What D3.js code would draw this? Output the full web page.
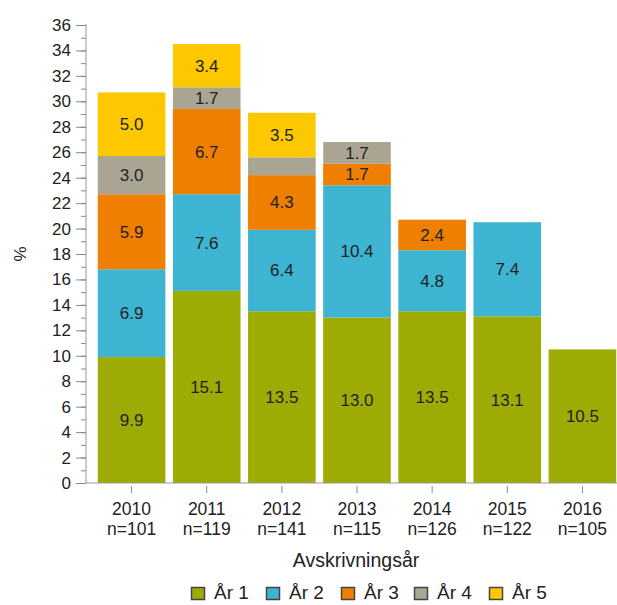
<!DOCTYPE html>
<html><head><meta charset="utf-8">
<script src="https://cdn.jsdelivr.net/npm/d3@7"></script>
<style>body{margin:0;background:#fff}text{font-family:"Liberation Sans",Arial,sans-serif}</style>
</head><body><svg id="c" width="617" height="605"></svg>
<script>
const years = ["2010","2011","2012","2013","2014","2015","2016"];
const nLabels = ["n=101","n=119","n=141","n=115","n=126","n=122","n=105"];
const seriesNames = ["År 1","År 2","År 3","År 4","År 5"];
const ar1 = [9.9, 15.1, 13.5, 13.0, 13.5, 13.1, 10.5];
const ar2 = [6.9, 7.6, 6.4, 10.4, 4.8, 7.4, 0];
const ar3 = [5.9, 6.7, 4.3, 1.7, 2.4, 0, 0];
const ar4 = [3.0, 1.7, 1.4, 1.7, 0, 0, 0];
const ar5 = [5.0, 3.4, 3.5, 0, 0, 0, 0];
const showLabel = [
  [1,1,1,1,1,1,1],
  [1,1,1,1,1,1,0],
  [1,1,1,1,1,0,0],
  [1,1,0,1,0,0,0],
  [1,1,1,0,0,0,0]
];
const colors = ["#9eab05","#3cb4d2","#ee7f00","#aaa593","#fdc800"];
const yTicks = d3.range(0, 37, 2);

const svg = d3.select("#c");
const x = d3.scaleBand().domain(years).range([94, 620]).paddingInner(0.1).paddingOuter(0.05);
const y = d3.scaleLinear().domain([0, 36]).range([483, 25]);

const data = years.map((yr, i) => {
  const o = {year: yr};
  [ar1, ar2, ar3, ar4, ar5].forEach((arr, k) => o[seriesNames[k]] = arr[i]);
  return o;
});
const stack = d3.stack().keys(seriesNames)(data);

const g = svg.append("g");
stack.forEach((s, k) => {
  g.selectAll(null).data(s).enter().append("rect")
    .attr("x", d => x(d.data.year))
    .attr("width", x.bandwidth())
    .attr("y", d => y(d[1]))
    .attr("height", d => y(d[0]) - y(d[1]))
    .attr("fill", colors[k]);
  g.selectAll(null).data(s.filter((d, i) => showLabel[k][i] && d[1] - d[0] > 0)).enter().append("text")
    .attr("x", d => x(d.data.year) + x.bandwidth() / 2)
    .attr("y", d => y((d[0] + d[1]) / 2))
    .attr("dy", "0.35em")
    .attr("text-anchor", "middle")
    .attr("font-size", 17)
    .attr("fill", "#222")
    .text(d => (d[1] - d[0]).toFixed(1));
});

// y axis
const ya = svg.append("g").attr("transform", "translate(86,0)");
ya.call(d3.axisLeft(y).tickValues(d3.range(0, 37, 1)).tickSize(5).tickFormat(""))
  .call(a => a.select(".domain").remove());
ya.selectAll(".tick line").attr("stroke", "#888");
const ya2 = svg.append("g").attr("transform", "translate(86,0)");
ya2.call(d3.axisLeft(y).tickValues(yTicks).tickSize(10).tickPadding(5))
  .call(a => a.select(".domain").attr("stroke", "#999").attr("d", `M0,${y(36)-1}V${y(0)}`));
ya2.selectAll(".tick line").attr("stroke", "#888");
ya2.selectAll(".tick text").attr("font-size", 17).attr("fill", "#222").style("font-family", "Liberation Sans, Arial, sans-serif");

// x axis
const xa = svg.append("g").attr("transform", "translate(0,483)");
xa.append("line").attr("x1", 86).attr("x2", 617).attr("stroke", "#999");
xa.selectAll(null).data(years).enter().append("line")
  .attr("x1", d => x(d) + x.bandwidth()/2).attr("x2", d => x(d) + x.bandwidth()/2)
  .attr("y1", 3).attr("y2", 10).attr("stroke", "#888");
xa.selectAll(null).data(years).enter().append("text")
  .attr("x", d => x(d) + x.bandwidth()/2).attr("y", 32)
  .attr("text-anchor", "middle").attr("font-size", 17.5).attr("fill", "#222").text(d => d);
xa.selectAll(null).data(nLabels).enter().append("text")
  .attr("x", (d, i) => x(years[i]) + x.bandwidth()/2).attr("y", 52)
  .attr("text-anchor", "middle").attr("font-size", 17.5).attr("fill", "#222").text(d => d);

svg.append("text").attr("x", 356).attr("y", 567).attr("text-anchor", "middle")
  .attr("font-size", 19.5).attr("fill", "#222").text("Avskrivningsår");
svg.append("text").attr("transform", "translate(26,254) rotate(-90)").attr("text-anchor", "middle")
  .attr("font-size", 17).attr("fill", "#222").text("%");

// legend
const legX = [191, 266, 341, 414, 489];
const lg = svg.append("g");
seriesNames.forEach((n, k) => {
  lg.append("rect").attr("x", legX[k] + 0.5).attr("y", 587.5).attr("width", 13).attr("height", 12)
    .attr("fill", colors[k]).attr("stroke", "#444").attr("stroke-width", 1.5);
  lg.append("text").attr("x", legX[k] + 23).attr("y", 599).attr("font-size", 19).attr("fill", "#222").text(n);
});
</script></body></html>
